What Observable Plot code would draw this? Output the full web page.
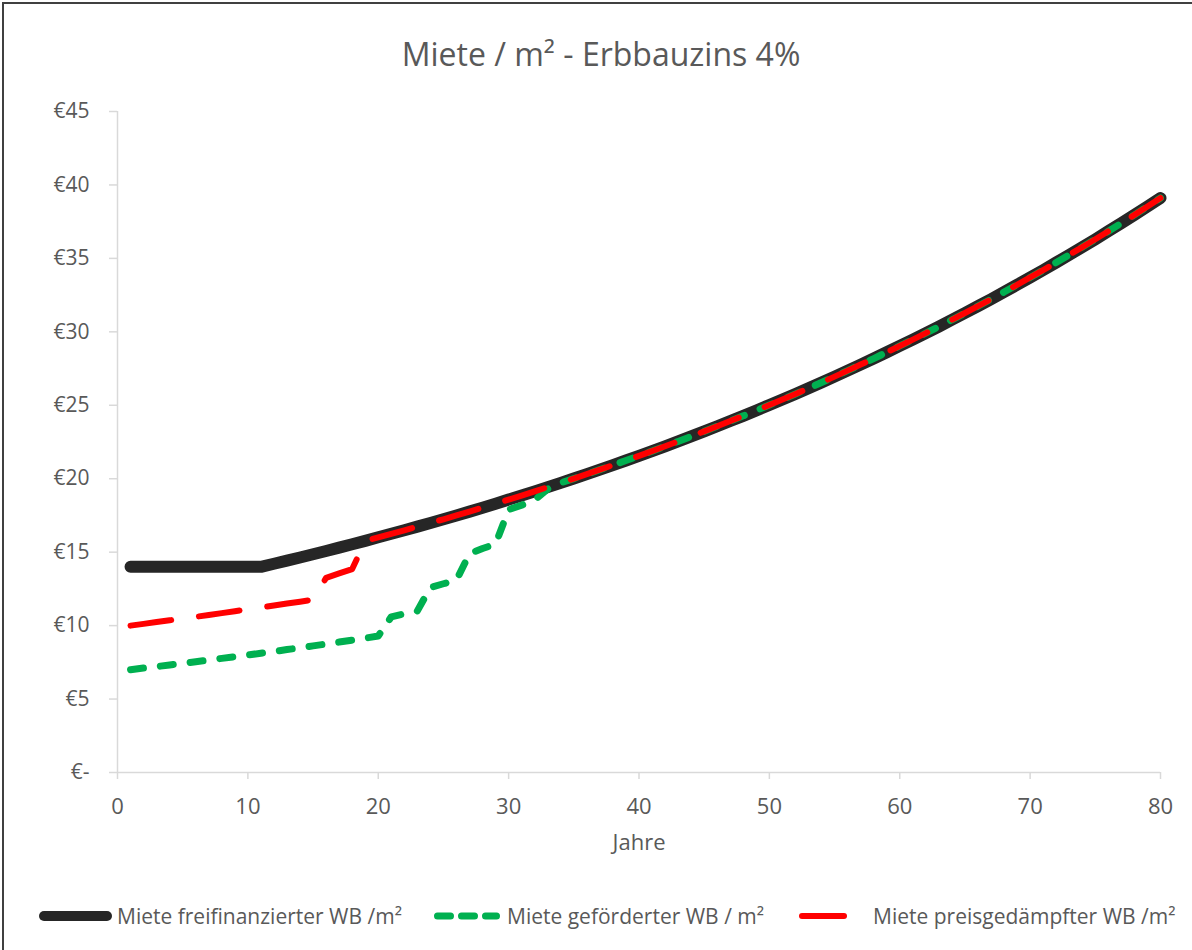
<!DOCTYPE html>
<html>
<head>
<meta charset="utf-8">
<script src="https://cdn.jsdelivr.net/npm/d3@7"></script>
<script src="https://cdn.jsdelivr.net/npm/@observablehq/plot@0.6"></script>
<style>
  html, body { margin: 0; padding: 0; background: #fff; }
  #wrap { position: relative; width: 1192px; height: 950px; overflow: hidden; background: #fff; font-family: 'Open Sans', sans-serif; }
  #frame { position: absolute; left: 2px; top: 2px; width: 1220px; height: 980px; border: 2px solid #404040; box-sizing: border-box; pointer-events: none; }
  #title { position: absolute; left: 10px; top: 32px; width: 1182px; text-align: center; font-size: 32px; line-height: 44px; color: #595959; }
  #chart { position: absolute; left: 0; top: 100px; }
  #legend { position: absolute; left: 0; top: 900px; width: 1192px; height: 32px; }
  .item { position: absolute; top: 0; height: 32px; display: flex; align-items: center; font-size: 21px; color: #595959; white-space: nowrap; }
  .item svg { display: block; }
</style>
</head>
<body>
<div id="wrap">
  <div id="title">Miete / m² - Erbbauzins 4%</div>
  <div id="chart"></div>
  <div id="legend"></div>
  <div id="frame"></div>
</div>
<script>
// ---------- data ----------
const years = d3.range(1, 81);
const xTicks = [0, 10, 20, 30, 40, 50, 60, 70, 80];
const yTicks = [0, 5, 10, 15, 20, 25, 30, 35, 40, 45];

const seriesNames = [
  "Miete freifinanzierter WB /m²",
  "Miete geförderter WB / m²",
  "Miete preisgedämpfter WB /m²"
];

// Miete freifinanzierter WB (years 1..80)
const freifinanziert = [
  14.00, 14.00, 14.00, 14.00, 14.00, 14.00, 14.00, 14.00, 14.00, 14.00,
  14.00, 14.21, 14.42, 14.64, 14.86, 15.08, 15.31, 15.54, 15.77, 16.01,
  16.25, 16.49, 16.74, 16.99, 17.24, 17.50, 17.76, 18.03, 18.30, 18.58,
  18.85, 19.14, 19.43, 19.72, 20.01, 20.31, 20.62, 20.93, 21.24, 21.56,
  21.88, 22.21, 22.54, 22.88, 23.22, 23.57, 23.93, 24.28, 24.65, 25.02,
  25.39, 25.77, 26.16, 26.55, 26.95, 27.36, 27.77, 28.18, 28.61, 29.04,
  29.47, 29.91, 30.36, 30.82, 31.28, 31.75, 32.22, 32.71, 33.20, 33.70,
  34.20, 34.72, 35.24, 35.77, 36.30, 36.85, 37.40, 37.96, 38.53, 39.11
];

// Miete geförderter WB, years 1..33 (afterwards equal to freifinanziert)
const gefoerdertEarly = [
  7.00, 7.11, 7.21, 7.32, 7.43, 7.54, 7.65, 7.77, 7.88, 8.00,
  8.12, 8.24, 8.37, 8.49, 8.62, 8.75, 8.88, 9.01, 9.15, 9.29,
  10.60, 10.80, 11.00, 12.60, 12.85, 13.10, 14.90, 15.25, 15.55, 17.90,
  18.20, 18.55, 19.30
];

// Miete preisgedämpfter WB, years 1..19 (afterwards equal to freifinanziert)
const preisgedaempftEarly = [
  10.00, 10.12, 10.24, 10.36, 10.48, 10.60, 10.72, 10.85, 10.98, 11.11,
  11.24, 11.37, 11.50, 11.63, 11.76, 13.25, 13.55, 13.85, 15.77
];

const gefoerdert = gefoerdertEarly.concat(freifinanziert.slice(gefoerdertEarly.length));
const preisgedaempft = preisgedaempftEarly.concat(freifinanziert.slice(preisgedaempftEarly.length));

const colors = ["#262626", "#00b050", "#ff0000"];

// ---------- tables ----------
const toRows = (vals) => years.map((yr, i) => ({ year: yr, value: vals[i] }));
const rowsBlack = toRows(freifinanziert);
const rowsGreen = toRows(gefoerdert);
const rowsRed = toRows(preisgedaempft);

const axisGray = "#d9d9d9";
const textGray = "#595959";

const chart = Plot.plot({
  width: 1192,
  height: 780,
  marginTop: 11,
  marginBottom: 108,
  marginLeft: 117,
  marginRight: 32,
  style: { fontFamily: "'Open Sans', sans-serif", color: textGray, background: "transparent", overflow: "visible" },
  x: { domain: [0, 80] },
  y: { domain: [0, 45] },
  marks: [
    Plot.ruleX([0], { stroke: axisGray, strokeWidth: 1.5 }),
    Plot.ruleY([0], { stroke: axisGray, strokeWidth: 1.5 }),
    Plot.axisY({
      ticks: yTicks, tickSize: 8, tickPadding: 20, stroke: axisGray, strokeWidth: 1.5,
      fill: textGray, fontSize: 21, label: null,
      tickFormat: d => d === 0 ? "€-" : "€" + d
    }),
    Plot.axisX({
      ticks: xTicks, tickSize: 7, tickPadding: 19, stroke: axisGray, strokeWidth: 1.5,
      fill: textGray, fontSize: 22, label: null
    }),
    Plot.text(["Jahre"], { frameAnchor: "bottom", dy: 77, fontSize: 22, fill: textGray }),
    Plot.line(rowsBlack, {
      x: "year", y: "value", stroke: colors[0], strokeWidth: 12,
      strokeLinecap: "round", strokeLinejoin: "round"
    }),
    Plot.line(rowsGreen, {
      x: "year", y: "value", stroke: colors[1], strokeWidth: 7,
      strokeLinecap: "round", strokeLinejoin: "round", strokeDasharray: "13 17"
    }),
    Plot.line(rowsRed, {
      x: "year", y: "value", stroke: colors[2], strokeWidth: 6,
      strokeLinecap: "round", strokeLinejoin: "round", strokeDasharray: "41 28"
    })
  ]
});
document.getElementById("chart").appendChild(chart);

// ---------- legend ----------
const legend = d3.select("#legend");
const legendSpecs = [
  { left: 38, sw: 75, width: 10, dash: null, textGap: 4 },
  { left: 433, sw: 68, width: 7, dash: "13 11", textGap: 6 },
  { left: 798, sw: 50, width: 6, dash: null, textGap: 25 }
];
seriesNames.forEach((name, i) => {
  const s = legendSpecs[i];
  const item = legend.append("div").attr("class", "item").style("left", s.left + "px");
  const svg = item.append("svg").attr("width", s.sw).attr("height", 20);
  const pad = s.width / 2 + 1;
  const ln = svg.append("line")
    .attr("x1", pad).attr("x2", s.sw - pad).attr("y1", 10).attr("y2", 10)
    .attr("stroke", colors[i]).attr("stroke-width", s.width).attr("stroke-linecap", "round");
  if (s.dash) ln.attr("stroke-dasharray", s.dash);
  item.append("span").style("margin-left", s.textGap + "px").text(name);
});
</script>
</body>
</html>
